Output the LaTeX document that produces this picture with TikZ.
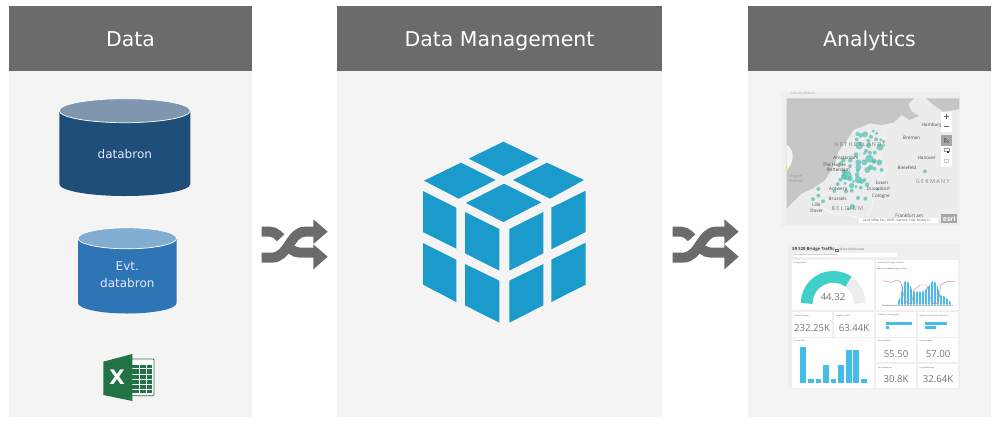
\documentclass[tikz,border=0pt]{standalone}
\usepackage{fontspec}
\setmainfont{DejaVu Sans}
\newfontfamily\dashf{Open Sans}
\newfontfamily\mapsp[LetterSpace=25]{Open Sans}
\definecolor{hdr}{HTML}{6B6B6B}
\definecolor{pan}{HTML}{F4F4F4}
\definecolor{cubeblue}{HTML}{1A9BCB}
\definecolor{darkcyl}{HTML}{1F4E79}
\definecolor{darkcyltop}{HTML}{7F97AE}
\definecolor{midcyl}{HTML}{2E75B6}
\definecolor{midcyltop}{HTML}{82AED2}
\definecolor{xlgreen}{HTML}{217346}
\definecolor{sea}{HTML}{C6C6C6}
\definecolor{land}{HTML}{ECECEC}
\definecolor{teal}{HTML}{4FBFB0}
\definecolor{gaugeteal}{HTML}{3FD0C9}
\definecolor{barblue}{HTML}{45BDE8}
\definecolor{pinkline}{HTML}{C77FB5}
\definecolor{dashbg}{HTML}{EFEFEF}
\tikzset{
  panelbody/.style={fill=pan,draw=none},
  headerbar/.style={fill=hdr,draw=none,minimum height=65pt,text=white,inner sep=0pt,text height=16pt,text depth=0pt,font=\fontsize{20.4}{24}\selectfont},
  cyllabel/.style={text=white!90!blue,align=center,inner sep=0pt,font=\fontsize{12}{17}\selectfont},
  maplabel/.style={inner sep=0pt,text=black!70,font=\dashf\fontsize{4.6}{5}\selectfont},
  mapbig/.style={inner sep=0pt,text=black!50,font=\mapsp\fontsize{5.4}{6}\selectfont},
  card/.style={fill=white,draw=none},
  cardtitle/.style={inner sep=0pt,anchor=west,text=black!65,font=\dashf\fontsize{1.9}{2}\selectfont},
  bignum/.style={inner sep=0pt,text=black!55,font=\dashf\fontsize{9.6}{10}\selectfont},
  dot/.style={fill=teal,fill opacity=.7,draw=none},
  cubeface/.style={fill=cubeblue,draw=none},
}
\begin{document}
\begin{tikzpicture}[x=1pt,y=-1pt]
\useasboundingbox (0,0) rectangle (1000,424);
\fill[white] (0,0) rectangle (1000,424);
% panels
\fill[panelbody] (9,71) rectangle (252,417);
\fill[panelbody] (337,71) rectangle (662,417);
\fill[panelbody] (748,71) rectangle (991,417);
\node[headerbar,minimum width=243pt] (h1) at (130.5,38.5) {Data};
\node[headerbar,minimum width=325pt] (h2) at (499.5,38.5) {Data Management};
\node[headerbar,minimum width=243pt] (h3) at (869.5,38.5) {Analytics};
% cylinders
\fill[darkcyl] (59.3,110.7) -- (59.3,184) arc (180:360:65.5 and -12) -- (190.3,110.7) -- cycle;
\fill[darkcyltop,draw=white,line width=.7pt] (124.8,110.7) ellipse (65.5 and 12);
\node[cyllabel] (db1) at (124.8,154) {databron};
\fill[midcyl] (78,238.3) -- (78,303) arc (180:360:49.3 and -10.5) -- (176.6,238.3) -- cycle;
\fill[midcyltop,draw=white,line width=.7pt] (127.3,238.3) ellipse (49.3 and 10.5);
\node[cyllabel] (db2) at (127.3,275) {Evt.\\databron};
% excel icon
\begin{scope}[shift={(50,90)},scale=1/3]
\fill[white,draw=xlgreen,line width=.8pt,rounded corners=1pt] (240,807) rectangle (312,917);
\fill[xlgreen] (247,824) rectangle (306,908);
\foreach \yy in {835,851,867,883,897} \fill[white] (247,\yy) rectangle (306,\yy+3);
\foreach \xx in {268,288} \fill[white] (\xx,818) rectangle (\xx+3,908);
\fill[xlgreen] (160,815) -- (247,792) -- (247,933) -- (160,915) -- cycle;
\node[inner sep=0pt,text=white,font=\bfseries\fontsize{20}{20}\selectfont] (xl) at (201,862) {X};
\end{scope}
% shuffle arrows
\foreach \dx in {250,661}{
\begin{scope}[shift={(\dx,210)},scale=1/3]
\draw[hdr,line width=10pt] (35,65) -- (60,65) .. controls (95,65) and (110,128) .. (150,128) -- (195,128);
\draw[white,line width=15pt] (85,120) .. controls (110,100) and (125,80) .. (150,70);
\draw[hdr,line width=10pt] (35,143) -- (65,143) .. controls (115,143) and (120,65) .. (165,65) -- (195,65);
\fill[hdr] (190,28) -- (233,65) -- (190,102) -- cycle;
\fill[hdr] (190,103) -- (233,140) -- (190,178) -- cycle;
\end{scope}}
% cube
\begin{scope}[shift={(400,130)},scale=1/3]
\fill[cubeface] (310,35) -- (416,86) -- (310,138) -- (206,86) -- cycle;
\fill[cubeface] (183,98) -- (287,150) -- (176,206) -- (72,152) -- cycle;
\fill[cubeface] (441,98) -- (552,150) -- (450,206) -- (339,150) -- cycle;
\fill[cubeface] (312,161) -- (424,217) -- (310,276) -- (198,219) -- cycle;
\fill[cubeface] (69,183) -- (169,233) -- (169,356) -- (69,306) -- cycle;
\fill[cubeface] (69,339) -- (169,389) -- (169,516) -- (69,464) -- cycle;
\fill[cubeface] (195,246) -- (298,297) -- (298,422) -- (195,370) -- cycle;
\fill[cubeface] (195,402) -- (298,452) -- (298,578) -- (195,526) -- cycle;
\fill[cubeface] (328,297) -- (430,246) -- (430,370) -- (328,422) -- cycle;
\fill[cubeface] (328,452) -- (430,402) -- (430,526) -- (328,578) -- cycle;
\fill[cubeface] (454,233) -- (557,182) -- (557,306) -- (454,358) -- cycle;
\fill[cubeface] (454,389) -- (557,338) -- (557,464) -- (454,516) -- cycle;
\end{scope}
% map
\begin{scope}[shift={(770,80)},scale=1/3]
\fill[dashbg] (33,35) rectangle (570,437);
\node[inner sep=0pt,text=black!35,font=\dashf\fontsize{3.2}{4}\selectfont] (m0) at (99,42) {Sales by Address};
\fill[land] (50,55) rectangle (568,435);
\fill[sea] (50,55) -- (432,55) -- (415,72) -- (425,95) -- (448,108) -- (418,120) -- (395,105) -- (370,128) -- (335,135) -- (300,130) -- (250,150) -- (228,185) -- (205,215) -- (195,250) -- (165,300) -- (130,325) -- (95,340) -- (50,385) -- cycle;
\fill[sea] (468,55) -- (568,55) -- (568,88) -- (520,95) -- (490,75) -- cycle;
\fill[land!60!white] (50,195) .. controls (70,205) and (78,240) .. (50,272) -- cycle;
\fill[yellow!80!orange] (48,258) rectangle (52,268);
\draw[white,line width=.4pt] (340,150) -- (345,190) -- (330,235) -- (345,270) -- (320,310) -- (300,340) -- (310,370) -- (290,410);
\draw[white,line width=.4pt] (125,355) -- (170,340) -- (225,325) -- (290,320);
\draw[white,line width=.4pt] (150,380) -- (190,400) -- (260,410) -- (290,430);
\foreach \px/\py/\r in {262/162/6,272/166/7,285/163/9,303/170/6,310/153/5,320/160/5,295/182/6,260/178/6,318/178/6,332/180/5,341/184/5,268/196/12,296/196/8,330/201/11,288/213/6,300/218/6,314/218/6,258/224/7,298/236/12,220/240/7,241/241/7,213/250/6,265/247/9,283/247/9,313/243/7,328/247/9,240/258/6,265/262/9,302/262/8,292/270/9,313/266/6,335/270/6,263/272/6,222/275/7,230/286/15,240/296/8,211/299/6,261/284/7,265/299/11,283/300/6,203/312/6,245/317/8,258/320/5,272/323/6,291/314/7,323/328/5,193/333/6,228/334/6,245/332/6,145/327/6,145/347/6,129/357/6,159/364/6,264/354/6,286/356/6,247/380/8,236/386/5,465/274/6,275/305/7,225/310/5,250/305/5,310/245/6,283/220/5,222/290/9}
  \fill[dot] (\px,\py) circle (\r);
\node[maplabel] (m1) at (485,135) {Hamburg};
\node[maplabel] (m2) at (425,175) {Bremen};
\node[mapbig] (m3) at (270,195) {NETHERLANDS};
\node[maplabel] (m4) at (228,234) {Amsterdam};
\node[maplabel] (m5) at (193,256) {The Hague};
\node[maplabel] (m6) at (205,269) {Rotterdam};
\node[maplabel] (m7) at (411,262) {Bielefeld};
\node[maplabel] (m8) at (470,233) {Hanover};
\node[mapbig] (m9) at (488,305) {GERMANY};
\node[maplabel] (m10) at (335,309) {Essen};
\node[maplabel] (m11) at (325,327) {Dusseldorf};
\node[maplabel] (m12) at (205,327) {Antwerp};
\node[maplabel] (m13) at (203,356) {Brussels};
\node[maplabel] (m14) at (333,349) {Cologne};
\node[maplabel] (m15) at (139,373) {Lille};
\node[maplabel] (m16) at (140,394) {Dover};
\node[mapbig] (m17) at (232,386) {BELGIUM};
\node[inner sep=0pt,align=center,text=black!40,font=\dashf\fontsize{3.6}{4.6}\selectfont] (m18) at (78,296) {English\\Channel};
\node[maplabel] (m19) at (418,407) {Frankfurt am};
\fill[white] (268,414) rectangle (505,430);
\node[inner sep=0pt,text=black!65,font=\dashf\fontsize{3.2}{4}\selectfont] (m20) at (383,422) {Land NRW, Esri, HERE, Garmin, FAO, NOAA, U...};
\fill[black!35] (514,403) rectangle (562,430);
\node[inner sep=0pt,text=white,font=\dashf\bfseries\fontsize{7}{7}\selectfont] (m21) at (538,417) {esri};
\fill[white] (514,95) rectangle (545,157);
\draw[black!60,line width=.4pt] (522,109) -- (538,109) (530,101) -- (530,117) (522,139) -- (538,139);
\fill[white] (514,197) rectangle (545,260);
\fill[black!35] (514,166) rectangle (545,197);
\draw[black!70,line width=.4pt] (524,174) -- (524,187) -- (528,184) -- (534,188) -- (536,184) -- cycle;
\draw[black!40,line width=.3pt] (522,204) rectangle (536,214);
\fill[black!80] (532,214) rectangle (537,219);
\draw[black!20,line width=.3pt] (523,236) rectangle (533,246);
\end{scope}
% dashboard
\begin{scope}[shift={(780,240)},scale=1/3]
\fill[dashbg] (25,12) rectangle (540,447);
\node[inner sep=0pt,anchor=west,text=black!75,font=\dashf\bfseries\fontsize{4.2}{5}\selectfont] (d0) at (36,27) {SR 520 Bridge Traffic};
\node[inner sep=0pt,anchor=west,text=black!60,font=\dashf\fontsize{3}{4}\selectfont] (d1) at (178,29) {Share Dashboard};
\draw[black!60,line width=.3pt] (166,26) rectangle (173,32);
\fill[white] (38,38) rectangle (350,52);
\node[cardtitle] (d2) at (41,45) {Ask a question about the data on this dashboard};
\foreach \ax/\ay/\bx/\by in {35/60/283/210,289/60/535/210,35/216/157/290,162/216/283/290,289/216/408/290,414/216/535/290,35/295/283/445,289/295/408/367,414/295/535/367,289/373/408/445,414/373/535/445}
  \fill[card] (\ax,\ay) rectangle (\bx,\by);
\node[cardtitle] (t1) at (40,70) {Average Speed};
\node[cardtitle] (t2) at (292,70) {Count of ID, Average of Speed};
\node[cardtitle] (t3) at (40,226) {Total Toll Amount};
\node[cardtitle] (t4) at (167,226) {Number of Cars};
\node[cardtitle] (t5) at (293,226) {Number of Cars by type};
\node[cardtitle] (t6) at (418,226) {Number of Cars with Good to Go};
\node[cardtitle] (t7) at (40,304) {Cars by Color};
\node[cardtitle] (t8) at (293,304) {Current Speed};
\node[cardtitle] (t9) at (418,304) {Current Speed};
\node[cardtitle] (t10) at (293,382) {Cars Eastbound};
\node[cardtitle] (t11) at (418,382) {Cars Westbound};
% gauge
\draw[black!7,line width=11.7pt] (80,190) arc (180:360:79.5);
\draw[gaugeteal,line width=11.7pt] (80,190) arc (180:305:79.5);
\node[bignum] (n1) at (159,172) {44.32};
% big numbers
\node[bignum] (n2) at (96,265) {232.25K};
\node[bignum] (n3) at (222,265) {63.44K};
\node[bignum] (n4) at (348,342) {55.50};
\node[bignum] (n5) at (474,342) {57.00};
\node[bignum] (n6) at (348,417) {30.8K};
\node[bignum] (n7) at (474,417) {32.64K};
% combo chart
\fill[barblue] (305,194) -- (350,194) -- (360,172) -- (370,130) -- (378,122) -- (388,130) -- (398,155) -- (430,155) -- (445,140) -- (458,122) -- (470,130) -- (480,165) -- (495,170) -- (510,185) -- (515,194) -- cycle;
\foreach \xx in {314,323,...,514} \draw[white,line width=.2pt] (\xx,120) -- (\xx,194);
\draw[pinkline,line width=.45pt] (310,122) -- (335,127) -- (350,120) -- (362,125) -- (372,170) -- (382,190) -- (395,190) -- (402,150) -- (420,135) -- (440,135) -- (450,170) -- (460,190) -- (475,190) -- (482,135) -- (500,125) -- (525,125);
\fill[barblue] (292,85) rectangle (296,88);
\node[cardtitle] (l1) at (298,87) {Count of ID};
\fill[pinkline] (328,85) rectangle (332,88);
\node[cardtitle] (l2) at (334,87) {Average of Speed};
\draw[black!25,line width=.2pt] (305,194) -- (520,194);
% horizontal bars
\fill[barblue] (318,247) rectangle (395,255);
\fill[barblue] (318,259) rectangle (327,267);
\fill[barblue] (435,247) rectangle (500,255);
\fill[barblue] (435,259) rectangle (468,267);
% colour bars
\foreach \xa/\xb/\yy in {60/78/320,84/102/417,107/124/417,130/147/375,152/169/417,175/192/375,197/215/330,220/238/330,243/260/417}
  \fill[barblue] (\xa,\yy) rectangle (\xb,428);
\end{scope}
\end{tikzpicture}
\end{document}
